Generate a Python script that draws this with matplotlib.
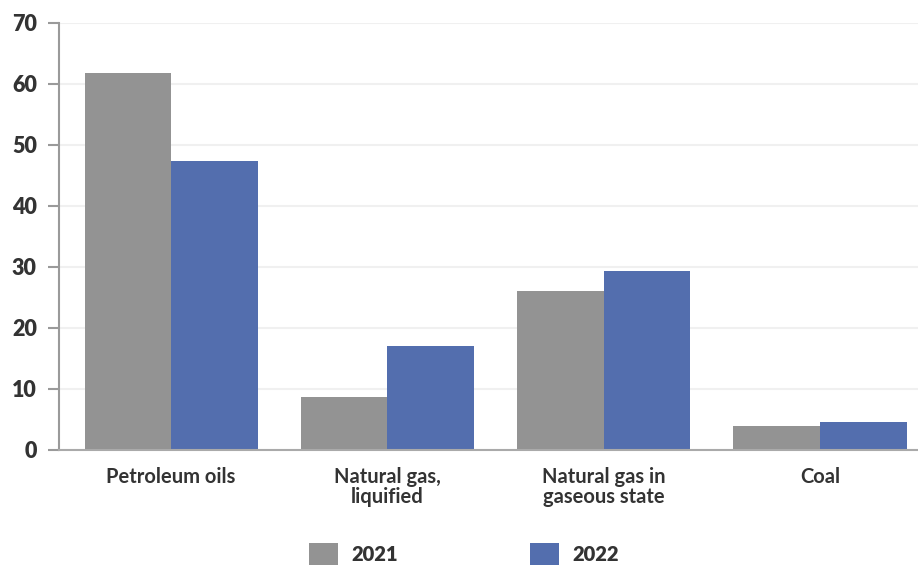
import matplotlib
matplotlib.use("Agg")
import matplotlib.pyplot as plt
from matplotlib.patches import Patch
import numpy as np

categories = ["Petroleum oils", "Natural gas,\nliquified", "Natural gas in\ngaseous state", "Coal"]
values_2021 = [61.8, 8.7, 26.0, 4.0]
values_2022 = [47.3, 17.0, 29.3, 4.6]
series_labels = ["2021", "2022"]
y_ticks = [0, 10, 20, 30, 40, 50, 60, 70]

color_2021 = "#939393"
color_2022 = "#536eae"
text_color = "#333333"

plt.rcParams["font.family"] = ["Lato", "DejaVu Sans"]

fig = plt.figure(figsize=(9.18, 5.67), dpi=100)
ax = fig.add_axes([59 / 918, 1 - 450 / 567, 1 - 59 / 918, (450 - 22.7) / 567])

x = np.arange(len(categories))
width = 0.4
ax.bar(x - width / 2, values_2021, width, color=color_2021, zorder=3)
ax.bar(x + width / 2, values_2022, width, color=color_2022, zorder=3)

ax.set_xlim(-0.518, 3.453)
ax.set_ylim(0, 70)
ax.set_yticks(y_ticks)
ax.set_yticklabels([str(t) for t in y_ticks], fontsize=15.5, fontweight="heavy", color=text_color)
ax.set_xticks(x)
ax.set_xticklabels(categories, fontsize=14.5, fontweight="bold", color=text_color, linespacing=1.05)

ax.yaxis.grid(True, color="#f0f0f0", linewidth=1.5, zorder=0)
ax.set_axisbelow(True)

for side in ["top", "right"]:
    ax.spines[side].set_visible(False)
ax.spines["left"].set_color("#9a9a9a")
ax.spines["left"].set_linewidth(1.5)
ax.spines["bottom"].set_color("#aaaaaa")
ax.spines["bottom"].set_linewidth(1.5)
ax.spines["bottom"].set_zorder(4)

ax.tick_params(axis="y", length=8, width=1.5, color="#9a9a9a", pad=8)
ax.tick_params(axis="x", length=0, pad=12)

handles = [Patch(facecolor=color_2021, edgecolor="none"),
           Patch(facecolor=color_2022, edgecolor="none")]
leg = fig.legend(handles, series_labels, loc="center", bbox_to_anchor=(464 / 918, 1 - 554 / 567),
                 ncol=2, frameon=False, handlelength=1.45, handleheight=1.35,
                 handletextpad=0.65, columnspacing=6.55,
                 prop={"size": 14.5, "weight": "heavy"})
for t in leg.get_texts():
    t.set_color(text_color)

fig.savefig("out.png", dpi=100)
